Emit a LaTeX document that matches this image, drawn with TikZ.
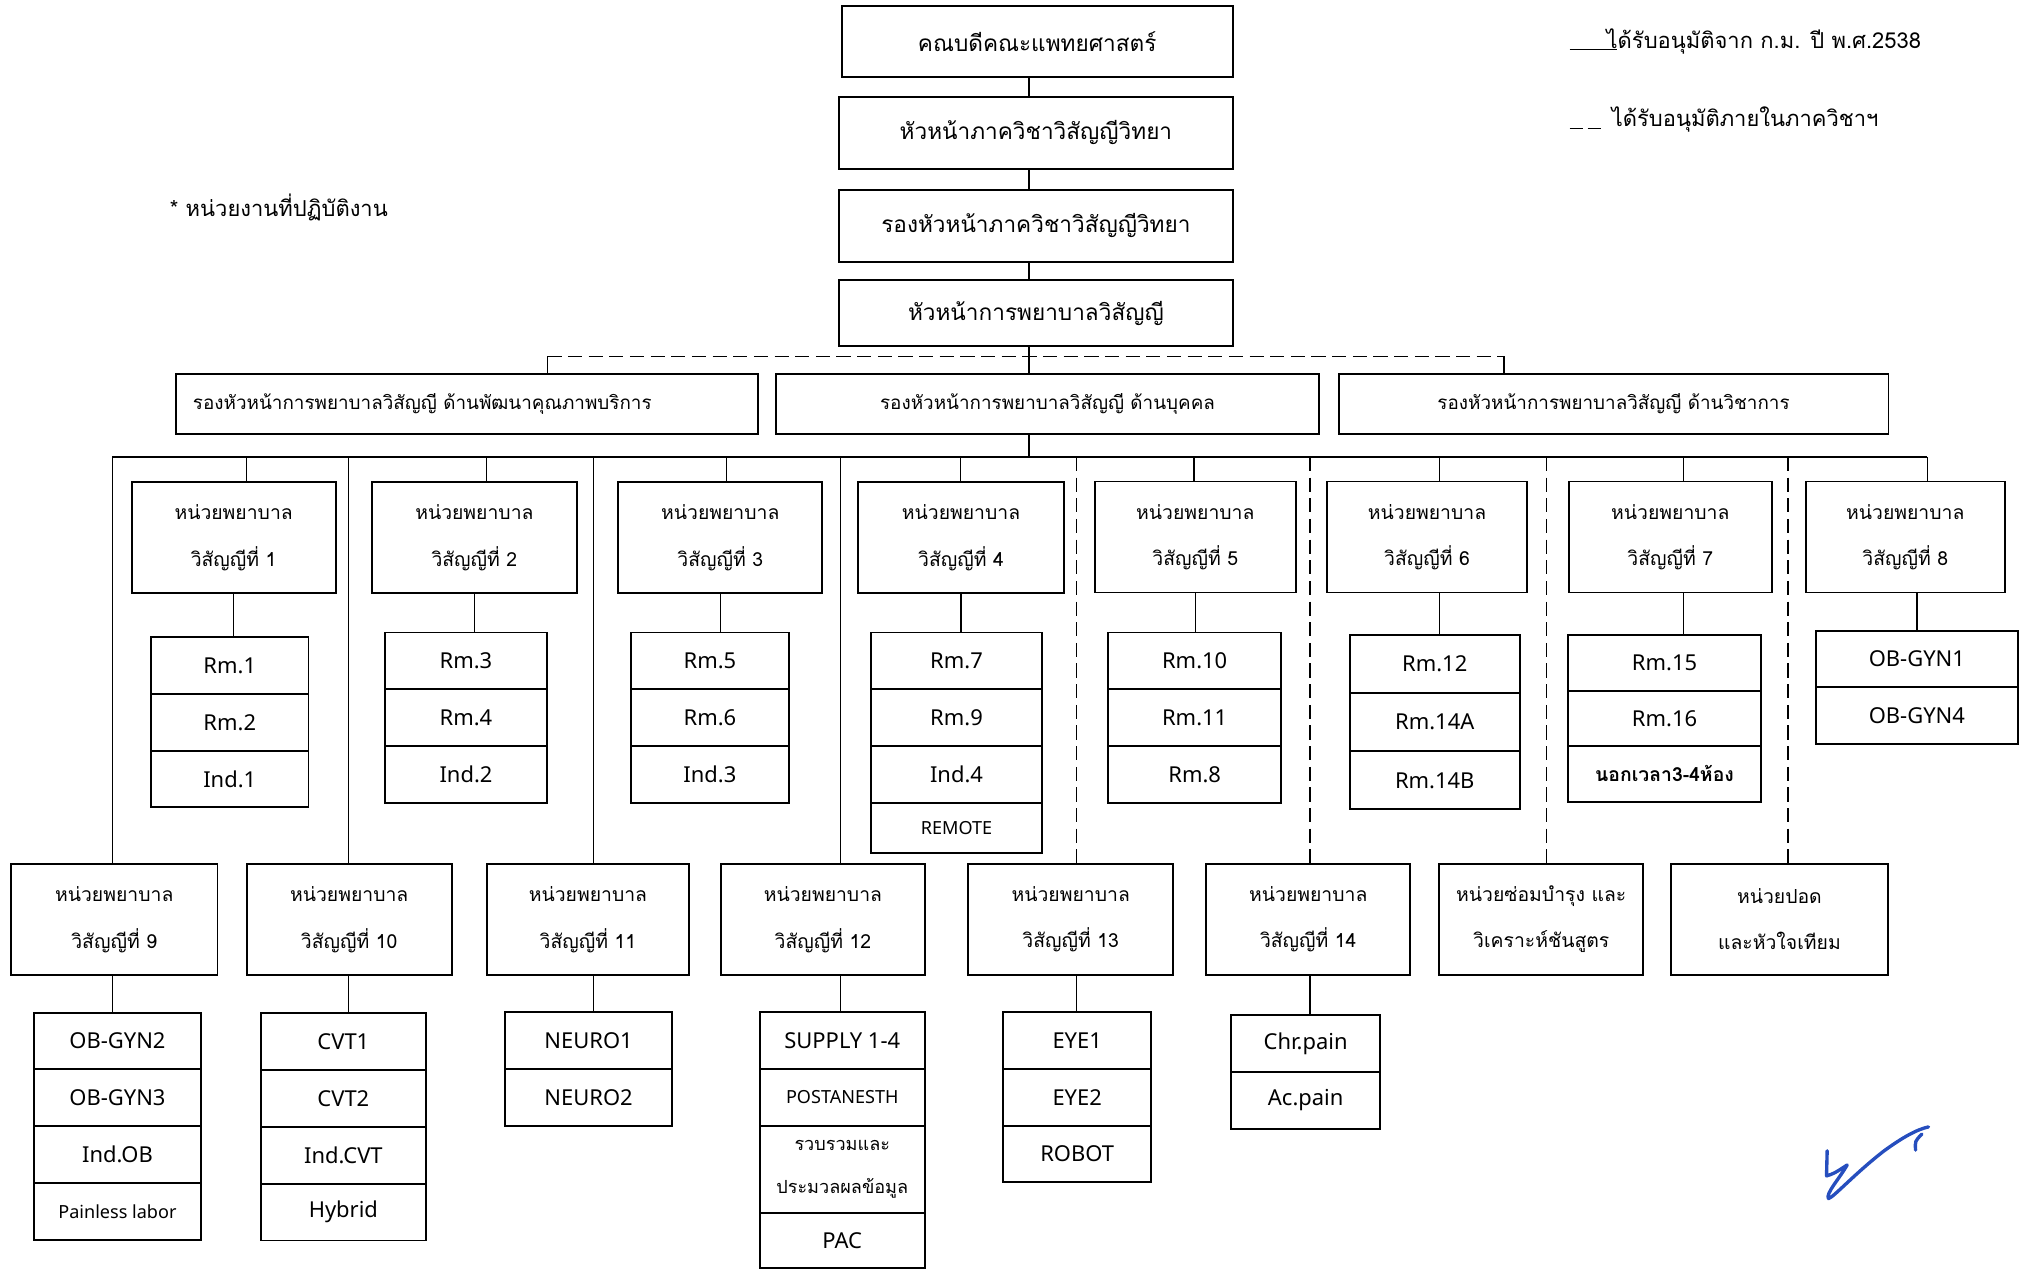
\documentclass[tikz,border=0pt]{standalone}
\usepackage{fontspec}
\setmainfont[Script=Thai]{Loma}
\newfontfamily\latinfont{Noto Sans}
\usetikzlibrary{positioning}
\definecolor{sigblue}{RGB}{38,78,190}
\tikzset{
  headbox/.style={draw, line width=1.5pt, minimum width=305pt, minimum height=56pt,
    font=\fontsize{17.5}{22}\selectfont},
  deputy/.style={draw, line width=1.5pt, minimum height=46pt,
    font=\fontsize{14.6}{18}\selectfont},
  unitbox/.style={draw, line width=1.5pt, minimum width=158pt, minimum height=86pt,
    align=center, font=\fontsize{15}{36}\selectfont},
  room/.style={draw, line width=1.5pt, minimum width=#1, minimum height=44pt,
    font=\latinfont\fontsize{17}{20}\selectfont},
  link/.style={line width=1.1pt},
  dashlink/.style={line width=1.1pt, dash pattern=on 11pt off 5pt},
  legend/.style={font=\fontsize{17}{20}\selectfont, inner sep=0pt},
  sig/.style={draw=sigblue, line width=2.6pt, line cap=round, line join=round}
}
\begin{document}
\begin{tikzpicture}[x=1pt, y=-1pt, on grid, node distance=44pt]
\useasboundingbox (0,0) rectangle (1568,984);

% legend and note
\node[legend, anchor=base west] (lgA) at (1244.5,37.5) {ได้รับอนุมัติจาก ก.ม. ปี พ.ศ.2538};
\node[legend, anchor=base west] (lgB) at (1248.5,98) {ได้รับอนุมัติภายในภาควิชาฯ};
\coordinate (lgAx) at (1216,38.5);
\coordinate (lgBx) at (1216,99.5);
\draw[link] (lgAx) -- ([xshift=8pt]lgA.base west |- lgAx);
\draw[link, dash pattern=on 10pt off 4pt] (lgBx) -- ([xshift=-7pt]lgB.base west |- lgBx);
\node[legend] (note) at (216,161) {* หน่วยงานที่ปฏิบัติงาน};

% head of the chart
\node[headbox, minimum width=303pt, minimum height=55pt] (dean) at (803.5,32.5) {คณบดีคณะแพทยศาสตร์};
\node[headbox] (head) at (802.5,103) {หัวหน้าภาควิชาวิสัญญีวิทยา};
\node[headbox] (vice) at (802.5,175) {รองหัวหน้าภาควิชาวิสัญญีวิทยา};
\node[headbox, minimum height=51pt] (nurse) at (802.5,242.5) {หัวหน้าการพยาบาลวิสัญญี};

\node[deputy, text width=425pt, inner xsep=13pt, align=left] (qual) at (362,313)
  {รองหัวหน้าการพยาบาลวิสัญญี ด้านพัฒนาคุณภาพบริการ};
\node[deputy, minimum width=421pt] (staff) at (811.5,313) {รองหัวหน้าการพยาบาลวิสัญญี ด้านบุคคล};
\node[deputy, minimum width=426pt] (acad) at (1250,313) {รองหัวหน้าการพยาบาลวิสัญญี ด้านวิชาการ};

\coordinate (trunk) at (797,354);
\coordinate (dl) at (424,276);
\coordinate (dr) at (1165,276);
\draw[link] (dean.south -| trunk) -- (head.north -| trunk);
\draw[link] (head.south -| trunk) -- (vice.north -| trunk);
\draw[link] (vice.south -| trunk) -- (nurse.north -| trunk);
\draw[link] (nurse.south -| trunk) -- (staff.north -| trunk);
\draw[dashlink] (dl) -- (dr);
\draw[link] (dl) -- (dl |- qual.north);
\draw[link] (dr) -- (dr |- acad.north);
\draw[link] (staff.south -| trunk) -- (trunk);

% bus to the units
\coordinate (busl) at (87,354);
\coordinate (busr) at (1493,354);
\draw[link] (busl) -- (busr);

% units 1-8
\node[unitbox] (u1) at (181,416.5) {หน่วยพยาบาล\\วิสัญญีที่ 1};
\node[unitbox, minimum width=159pt] (u2) at (367.5,416.5) {หน่วยพยาบาล\\วิสัญญีที่ 2};
\node[unitbox] (u3) at (558,416.5) {หน่วยพยาบาล\\วิสัญญีที่ 3};
\node[unitbox, minimum width=159pt] (u4) at (744.5,416.5) {หน่วยพยาบาล\\วิสัญญีที่ 4};
\node[unitbox, minimum width=156pt] (u5) at (926,416) {หน่วยพยาบาล\\วิสัญญีที่ 5};
\node[unitbox, minimum width=155pt] (u6) at (1105.5,416) {หน่วยพยาบาล\\วิสัญญีที่ 6};
\node[unitbox, minimum width=157pt] (u7) at (1294,416) {หน่วยพยาบาล\\วิสัญญีที่ 7};
\node[unitbox, minimum width=154pt] (u8) at (1476,416) {หน่วยพยาบาล\\วิสัญญีที่ 8};

\coordinate (k1) at (191,354);
\coordinate (k2) at (377,354);
\coordinate (k3) at (563,354);
\coordinate (k4) at (744,354);
\coordinate (k5) at (925,354);
\coordinate (k6) at (1115,354);
\coordinate (k7) at (1304,354);
\draw[link] (k1) -- (k1 |- u1.north);
\draw[link] (k2) -- (k2 |- u2.north);
\draw[link] (k3) -- (k3 |- u3.north);
\draw[link] (k4) -- (k4 |- u4.north);
\draw[link] (k5) -- (k5 |- u5.north);
\draw[link] (k6) -- (k6 |- u6.north);
\draw[link] (k7) -- (k7 |- u7.north);
\draw[link] (busr) -- (busr |- u8.north);

% rooms of units 1-8
\node[room=122pt] (r1a) at (178,515.5) {Rm.1};
\node[room=122pt, below=of r1a] (r1b) {Rm.2};
\node[room=122pt, below=of r1b] (r1c) {Ind.1};

\node[room=125pt] (r2a) at (361,512) {Rm.3};
\node[room=125pt, below=of r2a] (r2b) {Rm.4};
\node[room=125pt, below=of r2b] (r2c) {Ind.2};

\node[room=123pt] (r3a) at (550,512) {Rm.5};
\node[room=123pt, below=of r3a] (r3b) {Rm.6};
\node[room=123pt, below=of r3b] (r3c) {Ind.3};

\node[room=132pt] (r4a) at (741,512) {Rm.7};
\node[room=132pt, below=of r4a] (r4b) {Rm.9};
\node[room=132pt, below=of r4b] (r4c) {Ind.4};
\node[room=132pt, minimum height=38.5pt, below=41.25pt of r4c,
  font=\latinfont\fontsize{14}{16}\selectfont] (r4d) {REMOTE};

\node[room=134pt] (r5a) at (925.5,512) {Rm.10};
\node[room=134pt, below=of r5a] (r5b) {Rm.11};
\node[room=134pt, below=of r5b] (r5c) {Rm.8};

\node[room=132pt, minimum height=45pt, node distance=45pt] (r6a) at (1111.5,514.5) {Rm.12};
\node[room=132pt, minimum height=45pt, node distance=45pt, below=of r6a] (r6b) {Rm.14A};
\node[room=132pt, minimum height=45pt, node distance=45pt, below=of r6b] (r6c) {Rm.14B};

\node[room=149pt, minimum height=43pt, node distance=43pt] (r7a) at (1289.5,513.5) {Rm.15};
\node[room=149pt, minimum height=43pt, node distance=43pt, below=of r7a] (r7b) {Rm.16};
\node[room=149pt, minimum height=43pt, node distance=43pt, below=of r7b,
  font=\bfseries\fontsize{15}{18}\selectfont] (r7c) {นอกเวลา3-4ห้อง};

\node[room=156pt] (r8a) at (1485,510.5) {OB-GYN1};
\node[room=156pt, below=of r8a] (r8b) {OB-GYN4};

\draw[link] (u1.south) -- (u1.south |- r1a.north);
\draw[link] (u2.south) -- (u2.south |- r2a.north);
\draw[link] (u3.south) -- (u3.south |- r3a.north);
\draw[link] (u4.south) -- (u4.south |- r4a.north);
\draw[link] (u5.south) -- (u5.south |- r5a.north);
\draw[link] (k6 |- u6.south) -- (k6 |- r6a.north);
\draw[link] (k7 |- u7.south) -- (k7 |- r7a.north);
\draw[link] (r8a.north) -- (r8a.north |- u8.south);

% units 9-14 and the two support units
\node[unitbox, minimum width=160pt] (b9) at (88.5,712.5) {หน่วยพยาบาล\\วิสัญญีที่ 9};
\node[unitbox, minimum width=159pt] (b10) at (270.5,712.5) {หน่วยพยาบาล\\วิสัญญีที่ 10};
\node[unitbox, minimum width=156pt] (b11) at (455.5,712.5) {หน่วยพยาบาล\\วิสัญญีที่ 11};
\node[unitbox, minimum width=158pt] (b12) at (637.5,712.5) {หน่วยพยาบาล\\วิสัญญีที่ 12};
\node[unitbox, minimum width=159pt] (b13) at (829.5,712) {หน่วยพยาบาล\\วิสัญญีที่ 13};
\node[unitbox, minimum width=158pt] (b14) at (1013.5,712) {หน่วยพยาบาล\\วิสัญญีที่ 14};
\node[unitbox, minimum width=158pt] (b15) at (1194,712) {หน่วยซ่อมบำรุง และ\\วิเคราะห์ชันสูตร};
\node[unitbox, minimum width=168pt] (b16) at (1378.5,712) {หน่วยปอด\\และหัวใจเทียม};

\coordinate (d2) at (270,354);
\coordinate (d3) at (460,354);
\coordinate (d4) at (651,354);
\coordinate (d5) at (834,354);
\coordinate (d6) at (1015,354);
\coordinate (d7) at (1198,354);
\coordinate (d8) at (1385,354);
\draw[link] (busl) -- (busl |- b9.north);
\draw[link] (d2) -- (d2 |- b10.north);
\draw[link] (d3) -- (d3 |- b11.north);
\draw[link] (d4) -- (d4 |- b12.north);
\draw[dashlink] (d5) -- (d5 |- b13.north);
\draw[dashlink] (d6) -- (d6 |- b14.north);
\draw[dashlink] (d7) -- (d7 |- b15.north);
\draw[dashlink] (d8) -- (d8 |- b16.north);

% rooms of units 9-14
\node[room=130pt] (r9a) at (91,806.5) {OB-GYN2};
\node[room=130pt, below=of r9a] (r9b) {OB-GYN3};
\node[room=130pt, below=of r9b] (r9c) {Ind.OB};
\node[room=130pt, below=of r9c, font=\latinfont\fontsize{14}{16}\selectfont] (r9d) {Painless labor};

\node[room=128pt] (r10a) at (266,807) {CVT1};
\node[room=128pt, below=of r10a] (r10b) {CVT2};
\node[room=128pt, below=of r10b] (r10c) {Ind.CVT};
\node[room=128pt, below=of r10c] (r10d) {Hybrid};

\node[room=129pt] (r11a) at (456,806) {NEURO1};
\node[room=129pt, below=of r11a] (r11b) {NEURO2};

\node[room=128pt] (r12a) at (652.5,806) {SUPPLY 1-4};
\node[room=128pt, below=of r12a, font=\latinfont\fontsize{14}{16}\selectfont] (r12b) {POSTANESTH};
\node[room=128pt, minimum height=68pt, below=56pt of r12b, align=center,
  font=\fontsize{14}{33}\selectfont] (r12c) {รวบรวมและ\\ประมวลผลข้อมูล};
\node[room=128pt, minimum height=42.5pt, below=55.25pt of r12c] (r12d) {PAC};

\node[room=115pt] (r13a) at (834.5,806) {EYE1};
\node[room=115pt, below=of r13a] (r13b) {EYE2};
\node[room=115pt, below=of r13b] (r13c) {ROBOT};

\node[room=115pt] (r14a) at (1011.5,808.5) {Chr.pain};
\node[room=115pt, below=of r14a] (r14b) {Ac.pain};

\draw[link] (busl |- b9.south) -- (busl |- r9a.north);
\draw[link] (d2 |- b10.south) -- (d2 |- r10a.north);
\draw[link] (d3 |- b11.south) -- (d3 |- r11a.north);
\draw[link] (d4 |- b12.south) -- (d4 |- r12a.north);
\draw[link] (d5 |- b13.south) -- (d5 |- r13a.north);
\draw[link] (d6 |- b14.south) -- (d6 |- r14a.north);

% signature
\draw[sig] (1415.5,891.5) -- (1415,911) .. controls (1421,909) .. (1431,902.5)
  .. controls (1425,913) and (1414,925) .. (1416.5,928.5)
  .. controls (1420,928) and (1436,910) .. (1459,892)
  .. controls (1474,881) and (1485,875) .. (1494,873);
\draw[sig] (1484,891) .. controls (1483.5,884) .. (1489,878.5);
\end{tikzpicture}
\end{document}
